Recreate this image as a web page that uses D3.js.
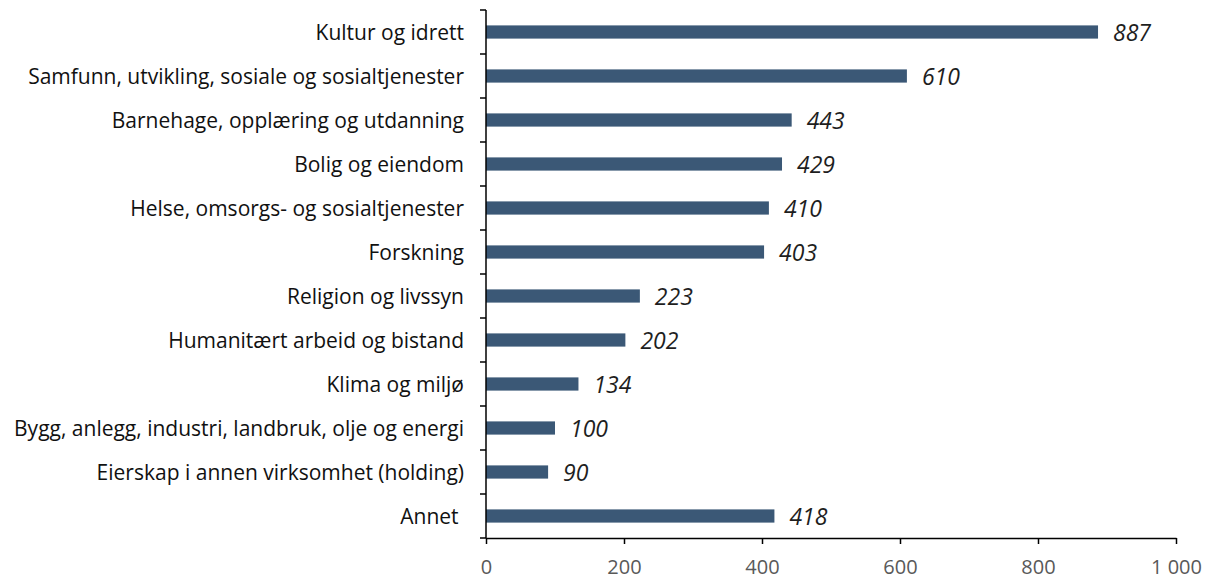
<!DOCTYPE html>
<html>
<head>
<meta charset="utf-8">
<script src="https://cdn.jsdelivr.net/npm/d3@7"></script>
<style>
  body { margin: 0; background: #fff; }
  #chart text { font-family: "Open Sans", Lato, sans-serif; }
</style>
</head>
<body>
<div id="chart"></div>
<script>
var categories = [
  "Kultur og idrett",
  "Samfunn, utvikling, sosiale og sosialtjenester",
  "Barnehage, opplæring og utdanning",
  "Bolig og eiendom",
  "Helse, omsorgs- og sosialtjenester",
  "Forskning",
  "Religion og livssyn",
  "Humanitært arbeid og bistand",
  "Klima og miljø",
  "Bygg, anlegg, industri, landbruk, olje og energi",
  "Eierskap i annen virksomhet (holding)",
  "Annet "
];
var values = [887, 610, 443, 429, 410, 403, 223, 202, 134, 100, 90, 418];
var xTicks = [0, 200, 400, 600, 800, 1000];

var width = 1214, height = 581;
var margin = { left: 486, right: 38, top: 10, bottom: 43 };
var barColor = "#3b5876";

var svg = d3.select("#chart").append("svg")
  .attr("width", width)
  .attr("height", height);

var x = d3.scaleLinear()
  .domain([0, 1000])
  .range([margin.left, width - margin.right]);

var y = d3.scaleBand()
  .domain(categories)
  .range([margin.top, height - margin.bottom])
  .paddingInner(0.7)
  .paddingOuter(0.35);

// bars
svg.append("g")
  .selectAll("rect")
  .data(values)
  .join("rect")
  .attr("x", x(0))
  .attr("y", function (d, i) { return y(categories[i]); })
  .attr("width", function (d) { return x(d) - x(0); })
  .attr("height", y.bandwidth())
  .attr("fill", barColor);

// value labels
svg.append("g")
  .selectAll("text")
  .data(values)
  .join("text")
  .attr("x", function (d) { return x(d) + 15; })
  .attr("y", function (d, i) { return y(categories[i]) + y.bandwidth() / 2; })
  .attr("dy", "0.4em")
  .attr("font-size", 23)
  .attr("font-style", "italic")
  .attr("fill", "#1e1e1e")
  .text(function (d) { return d; });

// category axis: ticks at band boundaries
var step = y.step();
var bounds = d3.range(categories.length + 1).map(function (i) { return margin.top + i * step; });
var ax = svg.append("g");
ax.append("line")
  .attr("x1", x(0)).attr("x2", x(0))
  .attr("y1", margin.top).attr("y2", height - margin.bottom)
  .attr("stroke", "#000").attr("stroke-width", 1.5);
ax.selectAll("line.tk")
  .data(bounds)
  .join("line")
  .attr("class", "tk")
  .attr("x1", x(0) - 6).attr("x2", x(0))
  .attr("y1", function (d) { return d; }).attr("y2", function (d) { return d; })
  .attr("stroke", "#000").attr("stroke-width", 1.5);
ax.selectAll("text")
  .data(categories)
  .join("text")
  .attr("x", x(0) - 22)
  .attr("y", function (d) { return y(d) + y.bandwidth() / 2; })
  .attr("dy", "0.36em")
  .attr("text-anchor", "end")
  .attr("font-size", 21)
  .attr("fill", "#111")
  .style("white-space", "pre")
  .text(function (d) { return d; });

// value axis
var xAxis = d3.axisBottom(x)
  .tickValues(xTicks)
  .tickSize(6)
  .tickSizeOuter(0)
  .tickFormat(function (d) { return d3.format(",")(d).replace(/,/g, " "); });
var gx = svg.append("g")
  .attr("transform", "translate(0," + (height - margin.bottom) + ")")
  .call(xAxis);
gx.select(".domain").attr("stroke", "#000").attr("stroke-width", 1.5);
gx.selectAll(".tick line").attr("stroke", "#000").attr("stroke-width", 1.5);
gx.selectAll(".tick text")
  .attr("y", 22)
  .attr("font-size", 20)
  .attr("fill", "#595959");
</script>
</body>
</html>
